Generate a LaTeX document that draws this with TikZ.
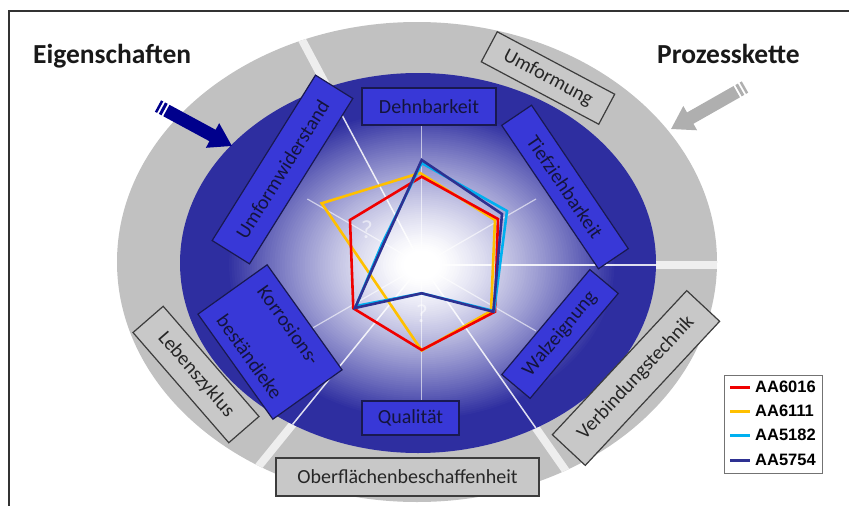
\documentclass[tikz,border=0pt]{standalone}
\usepackage{fontspec}
\setmainfont{Carlito}
\newfontfamily\legfont{Liberation Sans}
\definecolor{ringgray}{RGB}{193,193,193}
\definecolor{deepblue}{RGB}{46,46,160}
\definecolor{boxblue}{RGB}{56,56,215}
\definecolor{boxedge}{RGB}{25,25,80}
\definecolor{boxtext}{RGB}{20,20,60}
\definecolor{graybox}{RGB}{200,200,200}
\definecolor{grayedge}{RGB}{60,60,60}
\definecolor{graytext}{RGB}{38,38,38}
\definecolor{gapwhite}{RGB}{238,238,238}
\definecolor{cRed}{RGB}{240,0,0}
\definecolor{cYel}{RGB}{255,192,0}
\definecolor{cCya}{RGB}{0,176,240}
\definecolor{cNav}{RGB}{46,49,146}
\definecolor{arrowblue}{RGB}{0,0,140}
\definecolor{arrowgray}{RGB}{175,175,175}
\begin{document}
\begin{tikzpicture}[x=1pt,y=-1pt,
  bbox/.style={draw=boxedge, fill=boxblue, line width=1.2, inner sep=0, text=boxtext, font=\fontsize{20}{24}\selectfont},
  gbox/.style={draw=grayedge, fill=graybox, line width=1.2, inner sep=0, text=graytext, font=\fontsize{20}{24}\selectfont},
  series/.style={line width=2.6, line join=miter},
  legtext/.style={anchor=west, inner sep=0, font=\legfont\bfseries\fontsize{16.5}{18}\selectfont},
  title/.style={anchor=base west, inner sep=0, text=black!90, font=\bfseries\fontsize{27.5}{30}\selectfont}]
\useasboundingbox (0,0) rectangle (849,506);
\coordinate (C) at (421.7,265);
% outer ring
\fill[ringgray] (417,262) ellipse [x radius=300, y radius=240];
\begin{scope}
  \clip (417,262) ellipse [x radius=300, y radius=240];
  \foreach \a in {-118,0,129,55} \draw[gapwhite, line width=8] (C) -- ++(\a:400);
\end{scope}
% inner ellipse with glow
\fill[deepblue] (418,263) ellipse [x radius=238, y radius=190];
\begin{scope}
  \clip (418,263) ellipse [x radius=238, y radius=190];
  \foreach \i in {0,...,70} {
    \pgfmathsetmacro\s{0.82-\i*0.0106}
    \pgfmathsetmacro\p{100*pow(max((\s-0.08)/0.74,0),1.3)}
    \fill[deepblue!\p!white] (C) ellipse [x radius=238*\s, y radius=190*\s];
  }
  \foreach \a in {-118,0,129,55} \draw[white, line width=1.5, opacity=.85] (C) -- ++(\a:300);
\end{scope}
\foreach \a/\r in {-90/140,-30/132,30/132,90/138,150/132,-150/132}
  \draw[white, opacity=.6, line width=1.2] (C) -- ++(\a:\r);
% radar series
\draw[series, cYel] (420,173) -- (495,220) -- (491,311) -- (421.7,350.5) -- (380,289) -- (321.7,203.3) -- cycle;
\draw[series, cRed] (421.7,176.7) -- (498,219) -- (495,311.7) -- (421.7,350) -- (353.3,308.3) -- (350,220) -- cycle;
\draw[series, cCya] (421.7,163) -- (507,211) -- (494,311) -- (421.7,293.3) -- (356,306) -- (382,244) -- cycle;
\draw[series, cNav] (421.7,160) -- (502,214) -- (493.3,311.7) -- (421.7,293.3) -- (355,308) -- (384,243) -- cycle;
\node[text=white, opacity=.55, font=\fontsize{26}{26}\selectfont] (q1) at (367,230) {?};
\node[text=white, opacity=.55, font=\fontsize{26}{26}\selectfont] (q2) at (422,314) {?};
% blue boxes
\node[bbox, minimum width=134, minimum height=37] (dehn) at (429,106.5) {Dehnbarkeit};
\node[bbox, minimum width=173, minimum height=36, rotate=-56] (tief) at (565,187) {Tiefziehbarkeit};
\node[bbox, minimum width=137, minimum height=37, rotate=50] (walz) at (560,334) {Walzeignung};
\node[bbox, minimum width=97, minimum height=34] (qual) at (410.5,418) {Qualität};
\node[bbox, minimum width=129, minimum height=85, rotate=-54.5, align=left] (korr) at (270,342) {Korrosions-\\[26pt]beständieke};
\node[bbox, minimum width=195, minimum height=44, rotate=58] (umfw) at (282.5,169.5) {Umformwiderstand};
% grey boxes
\node[gbox, minimum width=133, minimum height=34, rotate=-28] (umf) at (548,78) {Umformung};
\node[gbox, minimum width=197, minimum height=45, rotate=47] (verb) at (636,378) {Verbindungstechnik};
\node[gbox, minimum width=263, minimum height=38] (ober) at (407.5,477) {Oberflächenbeschaffenheit};
\node[gbox, minimum width=146, minimum height=40, rotate=-49] (leb) at (196,374.5) {Lebenszyklus};
% titles
\node[title] (eig) at (33,63) {Eigenschaften};
\node[title] (pro) at (657,63) {Prozesskette};
% arrows
\begin{scope}[shift={(158,106)}, rotate=-28.4]
  \fill[arrowblue] (0,-6.5) rectangle (2.5,6.5);
  \fill[arrowblue] (4.5,-6.5) rectangle (7.5,6.5);
  \fill[arrowblue] (9.5,-6.5) -- (62,-6.5) -- (62,-14) -- (84,0) -- (62,14) -- (62,6.5) -- (9.5,6.5) -- cycle;
\end{scope}
\begin{scope}[shift={(745,87)}, rotate=209.6]
  \fill[arrowgray] (0,-6.5) rectangle (2.5,6.5);
  \fill[arrowgray] (4.5,-6.5) rectangle (7.5,6.5);
  \fill[arrowgray] (9.5,-6.5) -- (63,-6.5) -- (63,-14) -- (85,0) -- (63,14) -- (63,6.5) -- (9.5,6.5) -- cycle;
\end{scope}
% legend
\node[draw=black!55, fill=white, line width=1, minimum width=98, minimum height=98, inner sep=0] (leg) at (773,424) {};
\node[legtext] (l1) at (755,387) {AA6016};
\node[legtext] (l2) at (755,411) {AA6111};
\node[legtext] (l3) at (755,435) {AA5182};
\node[legtext] (l4) at (755,460) {AA5754};
\draw[cRed, line width=3] ([xshift=-25]l1.west) -- ([xshift=-5]l1.west);
\draw[cYel, line width=3] ([xshift=-25]l2.west) -- ([xshift=-5]l2.west);
\draw[cCya, line width=3] ([xshift=-25]l3.west) -- ([xshift=-5]l3.west);
\draw[cNav, line width=3] ([xshift=-25]l4.west) -- ([xshift=-5]l4.west);
% frame
\draw[line width=2, black!80] (9,506) -- (9,11) -- (849,11);
\end{tikzpicture}
\end{document}
